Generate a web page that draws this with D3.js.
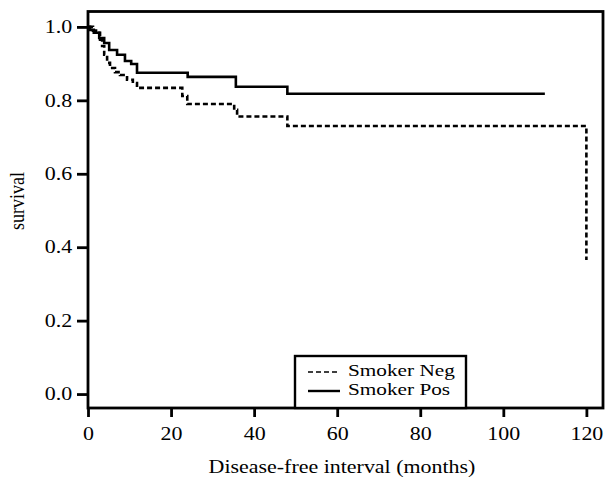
<!DOCTYPE html>
<html>
<head>
<meta charset="utf-8">
<script src="https://cdn.jsdelivr.net/npm/d3@7"></script>
<style>
  body { margin: 0; background: #fff; }
  text { font-family: "Liberation Serif", "DejaVu Serif", serif; fill: #000; }
</style>
</head>
<body>
<div class="vis-km"></div>
<script>
// Kaplan-Meier steps: [month, survival after the step]
const negTimes = [0, 1.2, 2.4, 2.9, 3.4, 3.9, 4.6, 5.3, 6.5, 7.7, 9.4, 10.8, 11.8, 22.7, 23.9, 35.2, 35.9, 48, 120];
const negSurv = [1.0, 0.99, 0.984, 0.965, 0.948, 0.924, 0.902, 0.888, 0.877, 0.869, 0.856, 0.847, 0.834, 0.812, 0.79, 0.774, 0.756, 0.73, 0.365];

const posTimes = [0, 0.5, 1.4, 2.7, 3.9, 5.1, 7.0, 8.9, 10.4, 11.8, 24, 35.6, 48];
const posSurv = [1.0, 0.992, 0.984, 0.97, 0.956, 0.937, 0.924, 0.907, 0.899, 0.875, 0.864, 0.837, 0.818];
const posEnd = 110;

const xTicks = [0, 20, 40, 60, 80, 100, 120];
const yTicks = [0.0, 0.2, 0.4, 0.6, 0.8, 1.0];
const seriesNames = ['Smoker Neg', 'Smoker Pos'];

const width = 605;
const height = 480;
const margin = { top: 11.5, right: 2, bottom: 72, left: 88 };
const stretch = 'scale(1.22,1)'; // the original's lettering is wide

const svg = d3
    .select('.vis-km')
    .append('svg')
    .attr('width', width)
    .attr('height', height);

const x = d3.scaleLinear().domain([0, 124]).range([margin.left, width - margin.right]);
const y = d3.scaleLinear().domain([-0.038, 1.042]).range([height - margin.bottom, margin.top]);

// frame
svg.append('rect')
    .attr('x', x(0))
    .attr('y', y(1.042))
    .attr('width', x(124) - x(0))
    .attr('height', y(-0.038) - y(1.042))
    .attr('fill', 'none')
    .attr('stroke', '#000')
    .attr('stroke-width', 2.8);

// Y axis
const yAxis = svg.append('g')
    .attr('transform', 'translate(' + x(0) + ',0)')
    .call(d3.axisLeft(y).tickValues(yTicks).tickFormat(d3.format('.1f')).tickSize(11).tickPadding(2));
yAxis.attr('font-family', null).attr('font-size', null);
yAxis.select('.domain').remove();
yAxis.selectAll('line').attr('stroke-width', 2.8);
yAxis.selectAll('text').style('font-size', '18px').attr('transform', stretch);

// X axis
const xAxis = svg.append('g')
    .attr('transform', 'translate(0,' + y(-0.038) + ')')
    .call(d3.axisBottom(x).tickValues(xTicks).tickFormat(d3.format('d')).tickSize(9).tickPadding(10));
xAxis.attr('font-family', null).attr('font-size', null);
xAxis.select('.domain').remove();
xAxis.selectAll('line').attr('stroke-width', 2.8);
xAxis.selectAll('text').style('font-size', '18px').attr('transform', stretch);

// axis labels
svg.append('text')
    .attr('text-anchor', 'middle')
    .attr('transform', 'translate(342,473) ' + stretch)
    .style('font-size', '18px')
    .text('Disease-free interval (months)');

svg.append('text')
    .attr('transform', 'translate(24,201) ' + stretch + ' rotate(-90)')
    .attr('text-anchor', 'middle')
    .style('font-size', '18px')
    .text('survival');

// step curves
const stepLine = d3.line()
    .x((d) => x(d[0]))
    .y((d) => y(d[1]))
    .curve(d3.curveStepAfter);

const negData = negTimes.map((t, i) => [t, negSurv[i]]);
const posData = posTimes.map((t, i) => [t, posSurv[i]]);
posData.push([posEnd, posSurv[posSurv.length - 1]]);

svg.append('path')
    .attr('d', stepLine(negData))
    .attr('fill', 'none')
    .attr('stroke', '#000')
    .attr('stroke-width', 2.6)
    .attr('stroke-dasharray', '5,3');

svg.append('path')
    .attr('d', stepLine(posData))
    .attr('fill', 'none')
    .attr('stroke', '#000')
    .attr('stroke-width', 2.6);

// legend
const legend = svg.append('g');
legend.append('rect')
    .attr('x', 295)
    .attr('y', 356)
    .attr('width', 171)
    .attr('height', y(-0.038) - 356)
    .attr('fill', '#fff')
    .attr('stroke', '#000')
    .attr('stroke-width', 2.4);

seriesNames.forEach((name, i) => {
    const ly = 376 + i * 19;
    legend.append('line')
        .attr('x1', 308)
        .attr('x2', 340)
        .attr('y1', ly - 4)
        .attr('y2', ly - 4)
        .attr('stroke', '#000')
        .attr('stroke-width', i === 0 ? 1.6 : 2.4)
        .attr('stroke-dasharray', i === 0 ? '5,3' : null);
    legend.append('text')
        .attr('transform', 'translate(348,' + ly + ') scale(1.25,1)')
        .style('font-size', '17px')
        .text(name);
});
</script>
</body>
</html>
